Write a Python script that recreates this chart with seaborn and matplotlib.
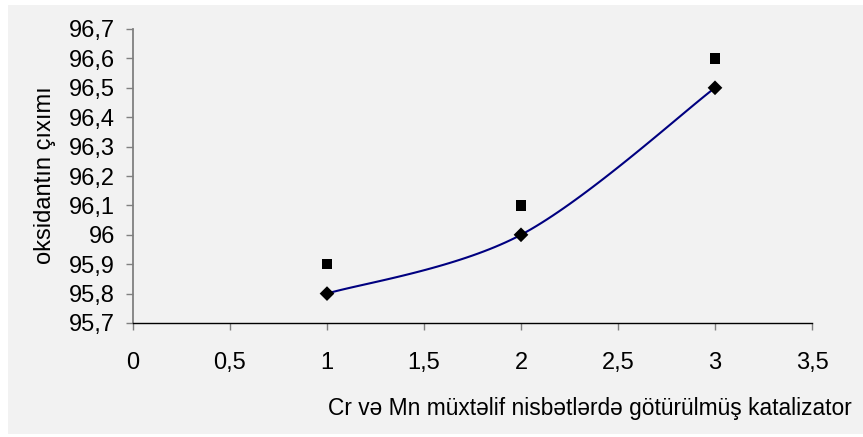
import numpy as np
import pandas as pd
import matplotlib
matplotlib.use("Agg")
import matplotlib.pyplot as plt
from matplotlib.patches import Rectangle
from matplotlib.ticker import FuncFormatter
import seaborn as sns

# data
x_vals = [1, 2, 3]
series_line = [95.8, 96.0, 96.5]      # diamonds + smoothed line
series_square = [95.9, 96.1, 96.6]    # squares
x_ticks = [0, 0.5, 1, 1.5, 2, 2.5, 3, 3.5]
y_ticks = [95.7, 95.8, 95.9, 96.0, 96.1, 96.2, 96.3, 96.4, 96.5, 96.6, 96.7]
x_label = "Cr və Mn müxtəlif nisbətlərdə götürülmüş katalizator"
y_label = "oksidantın çıxımı"

sns.set_theme(style="white")
plt.rcParams['font.family'] = ['Liberation Sans', 'DejaVu Sans']

W, H = 863, 437
FS = 17
fig = plt.figure(figsize=(W / 100, H / 100), dpi=100)
fig.patch.set_facecolor("white")
fig.patches.append(Rectangle((8 / W, (H - 434) / H), (W - 8) / W, (434 - 5) / H,
                             transform=fig.transFigure, facecolor="#f2f2f2",
                             edgecolor="none", zorder=-10))

ax = fig.add_axes([133 / W, (H - 323) / H, (812 - 133) / W, (323 - 29) / H])
ax.set_facecolor("none")
ax.set_zorder(5)


# Excel-style smoothed curve (cubic Bezier through points)
def smooth(xs, ys, n=40):
    P = np.column_stack([xs, ys]).astype(float)
    pts = []
    for i in range(len(P) - 1):
        p0 = P[i - 1] if i > 0 else P[i]
        p1, p2 = P[i], P[i + 1]
        p3 = P[i + 2] if i + 2 < len(P) else P[i + 1]
        c1 = p1 + (p2 - p0) / 6
        c2 = p2 - (p3 - p1) / 6
        t = np.linspace(0, 1, n)[:, None]
        seg = ((1 - t) ** 3) * p1 + 3 * ((1 - t) ** 2) * t * c1 + 3 * (1 - t) * t ** 2 * c2 + t ** 3 * p2
        pts.append(seg if i == 0 else seg[1:])
    return np.vstack(pts)


curve = smooth(x_vals, series_line)
df_curve = pd.DataFrame({"x": curve[:, 0], "y": curve[:, 1]})
sns.lineplot(data=df_curve, x="x", y="y", sort=False, estimator=None, ax=ax,
             color="#000080", linewidth=1.5)

df_sq = pd.DataFrame({"x": x_vals, "y": series_square})
df_di = pd.DataFrame({"x": x_vals, "y": series_line})
sns.scatterplot(data=df_sq, x="x", y="y", marker="s", s=56, color="black",
                edgecolor="none", ax=ax, zorder=5)
sns.scatterplot(data=df_di, x="x", y="y", marker="D", s=56, color="black",
                edgecolor="none", ax=ax, zorder=5)

ax.set_xlim(0, 3.5)
ax.set_ylim(95.7, 96.7)
ax.set_xticks(x_ticks)
ax.set_yticks(y_ticks)


def comma(v, pos):
    s = f"{v:.1f}".rstrip("0").rstrip(".")
    return s.replace(".", ",")


ax.xaxis.set_major_formatter(FuncFormatter(comma))
ax.yaxis.set_major_formatter(FuncFormatter(comma))
ax.set_xlabel("")
ax.set_ylabel("")

for s in ["top", "right"]:
    ax.spines[s].set_visible(False)
ax.spines["left"].set_color("#808080")
ax.spines["left"].set_linewidth(1.3)
ax.spines["bottom"].set_color("black")
ax.spines["bottom"].set_linewidth(1.0)

ax.tick_params(axis="y", direction="out", length=5, width=1, color="#808080",
               labelsize=FS, pad=8, labelcolor="black", left=True)
ax.tick_params(axis="x", direction="out", length=5, width=1, color="#808080",
               labelsize=FS, pad=16, labelcolor="black", bottom=True)

fig.text(45 / W, 1 - 175 / H, y_label, rotation=90, ha="center", va="center",
         fontsize=FS, color="black")
fig.text(328 / W, 1 - 408 / H, x_label, ha="left", va="center",
         fontsize=16.4, color="black")

fig.savefig("out.png", dpi=100, facecolor=fig.get_facecolor())
